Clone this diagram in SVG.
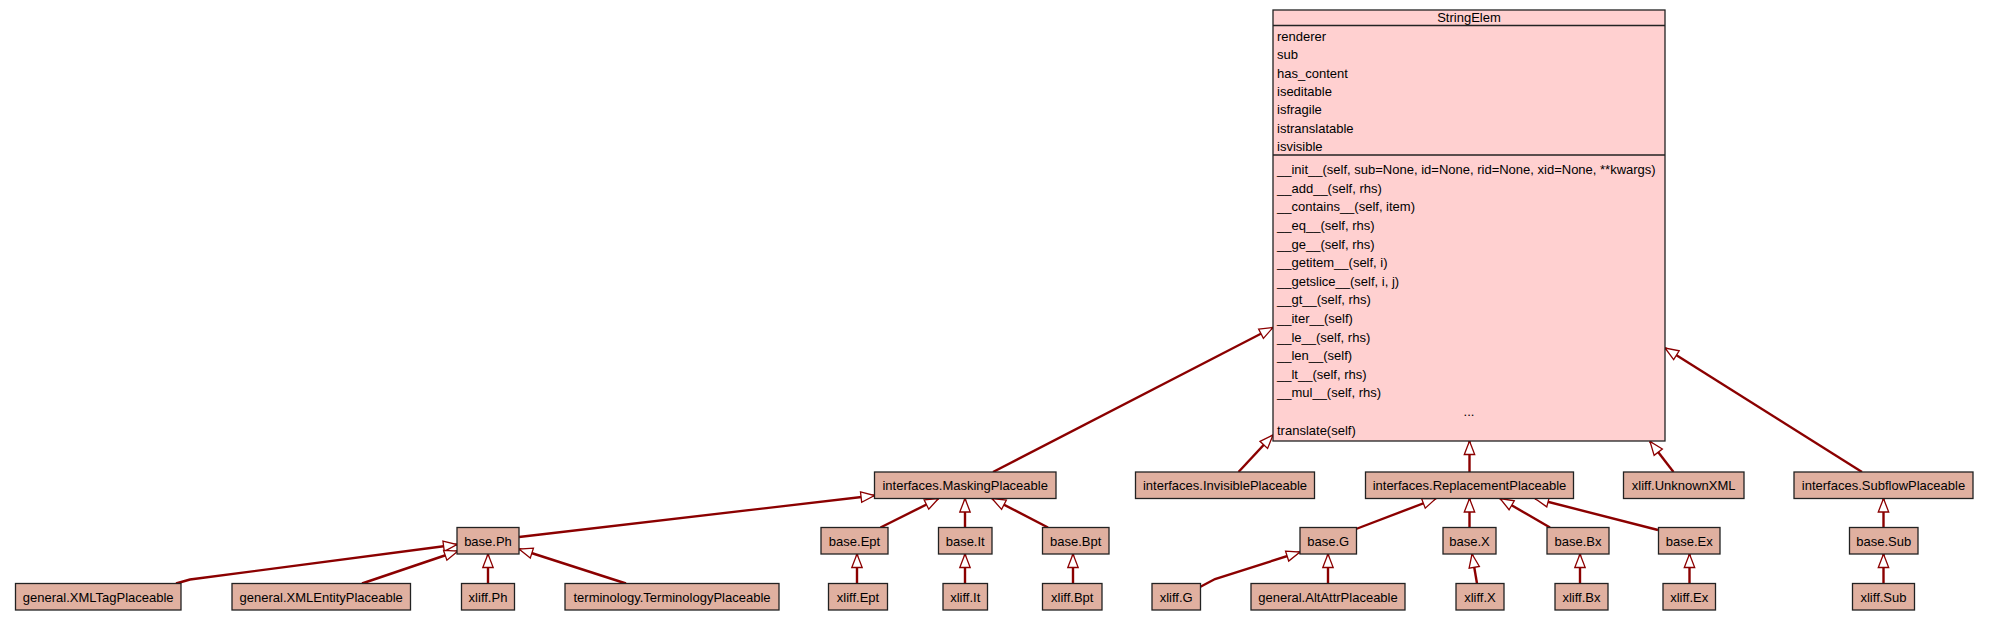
<svg xmlns="http://www.w3.org/2000/svg" width="1989" height="621" viewBox="0 0 1989 621">
<defs>
<style>
.n rect{fill:#e0b0a0;stroke:#222;stroke-width:1.3}
.n text{font-family:"Liberation Sans",Arial,sans-serif;font-size:13px;fill:#000;text-anchor:middle}
.big rect{fill:#ffd0d0;stroke:#222;stroke-width:1.3}
.big line{stroke:#222;stroke-width:1.3}
.big text{font-family:"Liberation Sans",Arial,sans-serif;font-size:13px;fill:#000}
.e line,.e polyline{stroke:#8b0000;stroke-width:2.4;fill:none;marker-end:url(#tri)}
</style>
<marker id="tri" markerUnits="userSpaceOnUse" markerWidth="18" markerHeight="14" refX="15" refY="7" orient="auto">
<path d="M1.5,1.8 L15,7 L1.5,12.2 Z" fill="#fff" stroke="#8b0000" stroke-width="1.3"/>
</marker>
</defs>
<rect width="1989" height="621" fill="#fff"/>

<g class="e" id="connectors">
<line x1="993" y1="472" x2="1273" y2="327.5"/>
<line x1="1238.5" y1="472" x2="1273" y2="435"/>
<line x1="1469.5" y1="472" x2="1469.5" y2="441"/>
<line x1="1673.5" y1="472" x2="1650" y2="441.5"/>
<line x1="1862" y1="472" x2="1665" y2="348"/>
<line x1="519" y1="537" x2="874.5" y2="495.5"/>
<line x1="880.5" y1="527.5" x2="938.5" y2="498.5"/>
<line x1="965" y1="527.5" x2="965" y2="498.5"/>
<line x1="1048" y1="527.5" x2="992" y2="498.5"/>
<line x1="1356" y1="529" x2="1436" y2="498.5"/>
<line x1="1469.5" y1="527.5" x2="1469.5" y2="498.5"/>
<line x1="1550" y1="527.5" x2="1500" y2="498.5"/>
<line x1="1658" y1="530" x2="1535" y2="498.5"/>
<line x1="1883.5" y1="527.5" x2="1883.5" y2="498.5"/>
<polyline points="176,583.5 190,579.5 457,544.5"/>
<line x1="362" y1="583.5" x2="458" y2="551"/>
<line x1="488" y1="583.5" x2="488" y2="554"/>
<line x1="626" y1="583.5" x2="519" y2="549"/>
<line x1="857" y1="583.5" x2="857" y2="554"/>
<line x1="965" y1="583.5" x2="965" y2="554"/>
<line x1="1073" y1="583.5" x2="1073" y2="554"/>
<polyline points="1200,587 1215,579 1300,552"/>
<line x1="1328" y1="583.5" x2="1328" y2="554"/>
<line x1="1477" y1="583.5" x2="1472" y2="554"/>
<line x1="1580" y1="583.5" x2="1580" y2="554"/>
<line x1="1689.5" y1="583.5" x2="1689.5" y2="554"/>
<line x1="1883.5" y1="583.5" x2="1883.5" y2="554"/>
</g>

<g class="big" id="StringElem">
<rect x="1273" y="10" width="392" height="431"/>
<line x1="1273" y1="25.5" x2="1665" y2="25.5"/>
<line x1="1273" y1="155" x2="1665" y2="155"/>
<text x="1469" y="22" text-anchor="middle">StringElem</text>
<text x="1277" y="40.7">renderer</text>
<text x="1277" y="59.1">sub</text>
<text x="1277" y="77.5">has_content</text>
<text x="1277" y="95.9">iseditable</text>
<text x="1277" y="114.3">isfragile</text>
<text x="1277" y="132.7">istranslatable</text>
<text x="1277" y="151.1">isvisible</text>
<text x="1277" y="174.2">__init__(self, sub=None, id=None, rid=None, xid=None, **kwargs)</text>
<text x="1277" y="192.8">__add__(self, rhs)</text>
<text x="1277" y="211.4">__contains__(self, item)</text>
<text x="1277" y="230">__eq__(self, rhs)</text>
<text x="1277" y="248.6">__ge__(self, rhs)</text>
<text x="1277" y="267.2">__getitem__(self, i)</text>
<text x="1277" y="285.8">__getslice__(self, i, j)</text>
<text x="1277" y="304.4">__gt__(self, rhs)</text>
<text x="1277" y="323">__iter__(self)</text>
<text x="1277" y="341.6">__le__(self, rhs)</text>
<text x="1277" y="360.2">__len__(self)</text>
<text x="1277" y="378.8">__lt__(self, rhs)</text>
<text x="1277" y="397.4">__mul__(self, rhs)</text>
<text x="1469" y="416" text-anchor="middle">...</text>
<text x="1277" y="434.6">translate(self)</text>
</g>

<g class="n" id="MaskingPlaceable"><rect x="874.5" y="472" width="181.5" height="26.5"/><text x="965.2" y="490">interfaces.MaskingPlaceable</text></g>
<g class="n" id="InvisiblePlaceable"><rect x="1135.5" y="472" width="179" height="26.5"/><text x="1225" y="490">interfaces.InvisiblePlaceable</text></g>
<g class="n" id="ReplacementPlaceable"><rect x="1365.5" y="472" width="208" height="26.5"/><text x="1469.5" y="490">interfaces.ReplacementPlaceable</text></g>
<g class="n" id="UnknownXML"><rect x="1623.5" y="472" width="120.5" height="26.5"/><text x="1683.7" y="490">xliff.UnknownXML</text></g>
<g class="n" id="SubflowPlaceable"><rect x="1794" y="472" width="179" height="26.5"/><text x="1883.5" y="490">interfaces.SubflowPlaceable</text></g>

<g class="n" id="basePh"><rect x="457" y="527.5" width="62" height="26.5"/><text x="488" y="545.5">base.Ph</text></g>
<g class="n" id="baseEpt"><rect x="821" y="527.5" width="67" height="26.5"/><text x="854.5" y="545.5">base.Ept</text></g>
<g class="n" id="baseIt"><rect x="938.5" y="527.5" width="53.5" height="26.5"/><text x="965.2" y="545.5">base.It</text></g>
<g class="n" id="baseBpt"><rect x="1042.5" y="527.5" width="66.5" height="26.5"/><text x="1075.7" y="545.5">base.Bpt</text></g>
<g class="n" id="baseG"><rect x="1300" y="527.5" width="56.5" height="26.5"/><text x="1328.2" y="545.5">base.G</text></g>
<g class="n" id="baseX"><rect x="1443" y="527.5" width="53" height="26.5"/><text x="1469.5" y="545.5">base.X</text></g>
<g class="n" id="baseBx"><rect x="1547" y="527.5" width="62" height="26.5"/><text x="1578" y="545.5">base.Bx</text></g>
<g class="n" id="baseEx"><rect x="1658.5" y="527.5" width="61.5" height="26.5"/><text x="1689.2" y="545.5">base.Ex</text></g>
<g class="n" id="baseSub"><rect x="1849.5" y="527.5" width="68.5" height="26.5"/><text x="1883.7" y="545.5">base.Sub</text></g>

<g class="n" id="XMLTagPlaceable"><rect x="15.5" y="583.5" width="165.5" height="26.5"/><text x="98.2" y="601.5">general.XMLTagPlaceable</text></g>
<g class="n" id="XMLEntityPlaceable"><rect x="232" y="583.5" width="178.5" height="26.5"/><text x="321.2" y="601.5">general.XMLEntityPlaceable</text></g>
<g class="n" id="xliffPh"><rect x="461.5" y="583.5" width="53" height="26.5"/><text x="488" y="601.5">xliff.Ph</text></g>
<g class="n" id="TerminologyPlaceable"><rect x="565" y="583.5" width="214" height="26.5"/><text x="672" y="601.5">terminology.TerminologyPlaceable</text></g>
<g class="n" id="xliffEpt"><rect x="828.5" y="583.5" width="59" height="26.5"/><text x="858" y="601.5">xliff.Ept</text></g>
<g class="n" id="xliffIt"><rect x="943" y="583.5" width="44.5" height="26.5"/><text x="965.2" y="601.5">xliff.It</text></g>
<g class="n" id="xliffBpt"><rect x="1042.5" y="583.5" width="59.5" height="26.5"/><text x="1072.2" y="601.5">xliff.Bpt</text></g>
<g class="n" id="xliffG"><rect x="1152" y="583.5" width="48.5" height="26.5"/><text x="1176.2" y="601.5">xliff.G</text></g>
<g class="n" id="AltAttrPlaceable"><rect x="1251" y="583.5" width="154" height="26.5"/><text x="1328" y="601.5">general.AltAttrPlaceable</text></g>
<g class="n" id="xliffX"><rect x="1456" y="583.5" width="48" height="26.5"/><text x="1480" y="601.5">xliff.X</text></g>
<g class="n" id="xliffBx"><rect x="1555" y="583.5" width="53" height="26.5"/><text x="1581.5" y="601.5">xliff.Bx</text></g>
<g class="n" id="xliffEx"><rect x="1663" y="583.5" width="52.5" height="26.5"/><text x="1689.2" y="601.5">xliff.Ex</text></g>
<g class="n" id="xliffSub"><rect x="1852.5" y="583.5" width="62" height="26.5"/><text x="1883.5" y="601.5">xliff.Sub</text></g>
</svg>
